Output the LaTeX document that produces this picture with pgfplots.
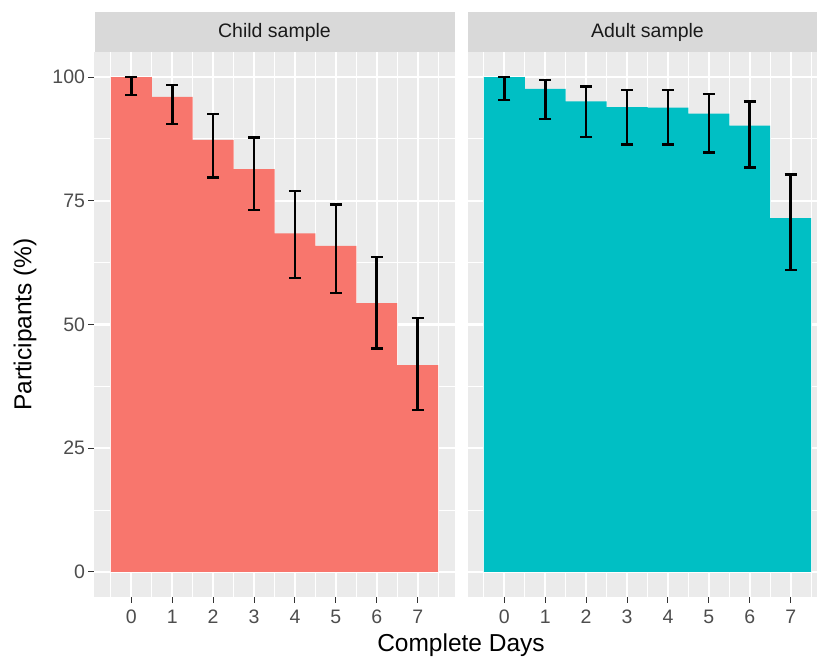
\documentclass[border=0pt]{standalone}
\usepackage{pgfplots}
\pgfplotsset{compat=1.18}
\usepackage{pgfplotstable}
\usepackage{fontspec}
\setmainfont{Liberation Sans}
\definecolor{childc}{HTML}{F8766D}
\definecolor{adultc}{HTML}{00BFC4}
\definecolor{panelbg}{HTML}{EBEBEB}
\definecolor{stripbg}{HTML}{D9D9D9}
\definecolor{ticklab}{HTML}{4D4D4D}
\definecolor{tickc}{HTML}{333333}
\definecolor{striptext}{HTML}{1A1A1A}

\pgfplotstableread{
x y lo hi
0 100 96.4 100
1 96.0 90.5 98.4
2 87.3 79.7 92.5
3 81.4 73.1 87.8
4 68.4 59.4 77.0
5 65.9 56.4 74.3
6 54.3 45.1 63.6
7 41.8 32.7 51.3
}\childdata
\pgfplotstableread{
x y lo hi
0 100 95.4 100
1 97.6 91.5 99.4
2 95.1 87.9 98.1
3 93.9 86.4 97.4
4 93.8 86.4 97.4
5 92.6 84.8 96.6
6 90.2 81.7 95.0
7 71.5 61.0 80.3
}\adultdata

\pgfplotsset{
  facet/.style={
    scale only axis, width=360pt, height=544.4pt,
    xmin=-0.9, xmax=7.9, ymin=-5, ymax=105,
    xtick={0,...,7}, ytick={0,25,50,75,100},
    minor xtick={-0.5,0.5,...,7.5}, minor ytick={12.5,37.5,62.5,87.5},
    grid=both,
    major grid style={white, line width=2.1pt},
    minor grid style={white, line width=1.05pt},
    axis background/.style={fill=panelbg},
    axis line style={draw=none},
    tick align=outside, major tick length=6pt, minor tick length=0pt,
    xtick pos=left, ytick pos=left,
    major tick style={tickc, line width=1.05pt},
    minor tick style={draw=none},
    tick label style={font=\fontsize{19.5}{23}\selectfont, text=ticklab},
    xticklabel style={yshift=-4pt},
    /pgf/number format/assume math mode=true,
  },
  ebar/.style={draw=none, mark=none, forget plot,
    error bars/.cd, y dir=both, y explicit,
    error bar style={draw=black, line width=2.6pt},
    error mark options={draw=black, line width=2.6pt, mark size=6pt, rotate=90}},
}

\begin{document}
\begin{tikzpicture}
\begin{axis}[facet, at={(94.5pt,62.3pt)}, anchor=south west]
  \addplot[ybar, bar width=1, bar shift=0pt, fill=childc, draw=none] table[x=x, y=y] {\childdata};
  \addplot[ebar] table[x=x, y=y, y error plus expr=\thisrow{hi}-\thisrow{y}, y error minus expr=\thisrow{y}-\thisrow{lo}] {\childdata};
\end{axis}
\begin{axis}[facet, at={(467.5pt,62.3pt)}, anchor=south west, yticklabels={}, ytick style={draw=none}]
  \addplot[ybar, bar width=1, bar shift=0pt, fill=adultc, draw=none] table[x=x, y=y] {\adultdata};
  \addplot[ebar] table[x=x, y=y, y error plus expr=\thisrow{hi}-\thisrow{y}, y error minus expr=\thisrow{y}-\thisrow{lo}] {\adultdata};
\end{axis}
\fill[stripbg] (94.5pt,606.7pt) rectangle (454.5pt,647pt);
\fill[stripbg] (467.5pt,606.7pt) rectangle (827.5pt,647pt);
\node[text=striptext, font=\fontsize{19.5}{23}\selectfont] at (274.5pt,626.8pt) {Child sample};
\node[text=striptext, font=\fontsize{19.5}{23}\selectfont] at (647.5pt,626.8pt) {Adult sample};
\node[font=\fontsize{24.5}{29}\selectfont] at (461pt,14pt) {Complete Days};
\node[rotate=90, font=\fontsize{24.5}{29}\selectfont] at (25pt,334.5pt) {Participants (\%)};
\pgfresetboundingbox
\path[use as bounding box] (0,0) rectangle (817pt,659pt);
\end{tikzpicture}
\end{document}
